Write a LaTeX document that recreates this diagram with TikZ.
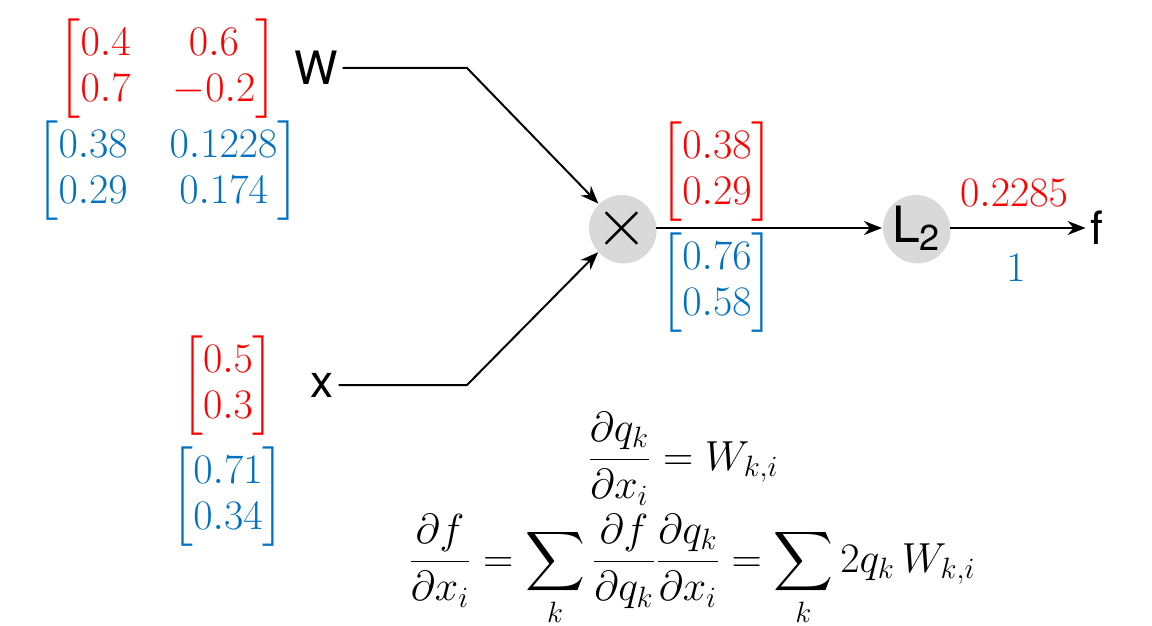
\RequirePackage{fix-cm}
\documentclass[tikz,border=0pt]{standalone}
\usepackage{amsmath}
\usepackage{fontspec}
\newfontfamily\labelfont{TeX Gyre Heros}
\usepackage{tikz}
\usetikzlibrary{arrows.meta,shadows}
\definecolor{valred}{HTML}{FF0000}
\definecolor{gradblue}{HTML}{0070C0}
\newcommand{\numsize}{\fontsize{21}{23}\selectfont}
\newcommand{\labsize}{\fontsize{23}{27}\selectfont}
\newcommand{\eqsize}{\fontsize{21}{25}\selectfont}
\setlength{\arraycolsep}{10.5pt}

\begin{document}
\begin{tikzpicture}[x=0.5pt,y=-0.5pt,>={Stealth[length=9pt,width=7pt]},line width=1pt,
  gate/.style={circle,fill=gray!30,minimum size=33pt,inner sep=0pt,
    drop shadow={opacity=0.3,shadow xshift=0.8pt,shadow yshift=-1.2pt}},
  lab/.style={font=\labelfont\labsize,inner sep=2pt},
  val/.style={text=valred,font=\numsize,inner sep=0pt},
  grad/.style={text=gradblue,font=\numsize,inner sep=0pt}]
  \useasboundingbox (0,0) rectangle (1152,626);
  % gates and labels
  \node[gate] (mul) at (622,228) {\fontsize{34}{34}\selectfont\makebox[0pt]{\smash{\raisebox{-0.25em}{$\times$}}}};
  \node[gate] (ltwo) at (916,228) {\labelfont\fontsize{25}{25}\selectfont L\raisebox{-0.3ex}{\fontsize{18}{18}\selectfont 2}};
  \node[lab] (Wlab) at (316,68) {W};
  \node[lab] (xlab) at (322,385) {x};
  \node[lab] (flab) at (1097,228) {f};
  \coordinate (Wbend) at (467,68);
  \coordinate (xbend) at (467,385);
  \draw[->] (Wlab) -- (Wbend) -- (mul);
  \draw[->] (xlab) -- (xbend) -- (mul);
  \draw[->] (mul) -- (ltwo);
  \draw[->] (ltwo) -- (flab);
  % forward values (red) and gradients (blue)
  \node[val] (Wval) at (168,69) {$\begin{bmatrix}0.4&0.6\\0.7&-0.2\end{bmatrix}$};
  \node[grad] (Wgrad) at (168,171) {$\begin{bmatrix}0.38&0.1228\\0.29&0.174\end{bmatrix}$};
  \node[val] (xval) at (228,386) {$\begin{bmatrix}0.5\\0.3\end{bmatrix}$};
  \node[grad] (xgrad) at (228,497) {$\begin{bmatrix}0.71\\0.34\end{bmatrix}$};
  \node[val] (qval) at (717,172) {$\begin{bmatrix}0.38\\0.29\end{bmatrix}$};
  \node[grad] (qgrad) at (717,283) {$\begin{bmatrix}0.76\\0.58\end{bmatrix}$};
  \node[val] (fval) at (1014,193) {$0.2285$};
  \node[grad] (fgrad) at (1016,268) {$1$};
  % local gradient
  \node[font=\eqsize,anchor=base,inner sep=0pt] (eqone) at (683,470) {$\dfrac{\partial q_k}{\partial x_i}=W_{k,i}$};
  \node[font=\eqsize,anchor=base,inner sep=0pt] (eqtwo) at (692,572) {$\displaystyle\frac{\partial f}{\partial x_i}=\sum_k\frac{\partial f}{\partial q_k}\frac{\partial q_k}{\partial x_i}=\sum_k 2q_k\,W_{k,i}$};
\end{tikzpicture}
\end{document}
